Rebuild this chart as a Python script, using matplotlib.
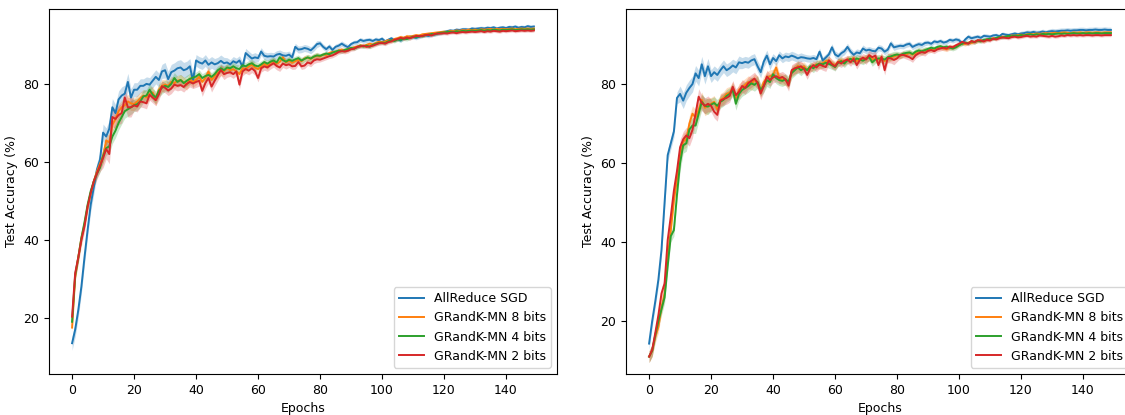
import numpy as np
import matplotlib.pyplot as plt

plt.rcParams['font.size'] = 9

# epochs 0..149
epochs = np.arange(150)
labels = ['AllReduce SGD', 'GRandK-MN 8 bits', 'GRandK-MN 4 bits', 'GRandK-MN 2 bits']
colors = ['tab:blue', 'tab:orange', 'tab:green', 'tab:red']

# ---------------- panel izquierdo ----------------
left_allreduce = [
    13.5, 17, 22, 28, 35.5, 42.5, 49, 53.5, 58, 60.5,
    67.5, 66.5, 68.5, 74, 72.5, 76, 77, 77.5, 80.5, 76.5,
    78.5, 78.5, 79.5, 79.5, 80, 79.8, 80.8, 81.8, 81, 83.2,
    83.5, 81.2, 83, 83.4, 84, 84.2, 83.5, 83.8, 84.5, 80.8,
    86, 85.5, 85.2, 86, 84.9, 85.5, 85, 85.3, 85.9, 85.3,
    85.5, 85, 85.8, 85.4, 86, 84.4, 87.9, 87.2, 86.5, 86.8,
    86.6, 88.3, 87.2, 87, 87.1, 87, 87.5, 87.7, 87.3, 87.2,
    87.5, 86.8, 89.5, 88.8, 88.9, 89.2, 89, 88.6, 89.3, 90.2,
    90.4, 89.5, 88.9, 89.6, 88.7, 89.5, 89.8, 90.3, 89.8, 89.4,
    90.2, 90.6, 90.7, 91.3, 91, 91.2, 91.3, 91, 91.4, 91.2,
    91.6, 90.9, 91.3, 91.7, 91.2, 91.5, 91.1, 91.8, 91.9, 92.1,
    92, 91.8, 92.1, 92.4, 92.5, 92.3, 92.6, 92.7, 92.9, 93.1,
    93.3, 93.5, 93.7, 93.6, 93.9, 93.8, 94, 94, 93.9, 94.2,
    94.1, 94.2, 94.3, 94.2, 94.4, 94.3, 94.5, 94.2, 94.4, 94.5,
    94.3, 94.6, 94.5, 94.7, 94.4, 94.6, 94.5, 94.8, 94.6, 94.7,
]
left_8bits = [
    17.5, 30.5, 35.5, 40.5, 44, 48.5, 52, 55, 57.5, 59.5,
    61.5, 65.5, 65, 69.5, 71, 73, 74, 74.5, 75.5, 75,
    74.8, 75.5, 76.3, 77, 76.5, 77.5, 77.8, 76, 78.5, 79.5,
    79.8, 79.5, 80.5, 80.2, 80.8, 81, 80.4, 79.8, 81.2, 80.5,
    81, 81.8, 80.5, 81.5, 83.2, 81, 82, 82.8, 83.4, 83.2,
    84, 83.5, 83.8, 83.2, 82.5, 84, 83.8, 84.5, 84.9, 84.2,
    83.8, 84.5, 85.2, 84.6, 85.5, 85.8, 85.2, 85.6, 86.8, 85.5,
    86, 85.4, 85.8, 86.2, 85.8, 86.5, 86.7, 86.4, 86.9, 87.2,
    87, 87.5, 87.4, 87.9, 88.2, 88.1, 88.6, 88.8, 88.5, 89,
    89.1, 89.4, 89.6, 89.9, 89.7, 90, 90.3, 90.1, 90.5, 90.8,
    90.7, 90.9, 91.2, 91, 91.5, 91.7, 92, 91.8, 92.2, 92.1,
    92.3, 92.5, 92.4, 92.7, 92.8, 92.9, 93, 93.1, 93.2, 93.3,
    93.4, 93.3, 93.6, 93.5, 93.7, 93.6, 93.8, 93.7, 93.9, 93.8,
    93.9, 93.8, 94, 93.9, 94, 94.1, 93.9, 94.1, 94, 94.1,
    94, 94.1, 94.2, 94, 94.1, 94.2, 94.1, 94.2, 94.1, 94.2,
]
left_4bits = [
    19, 31, 35.5, 40.5, 44.5, 49, 52.5, 55, 57, 58.5,
    61.5, 63.5, 64, 66.5, 68, 70, 71.5, 73, 73.5, 74,
    74.5, 74.8, 75.5, 76.8, 77, 78.5, 77.2, 76.5, 78.2, 79,
    79.5, 79.2, 80, 81.5, 80.5, 81, 80.2, 80.8, 81.3, 81.6,
    81.9, 82.5, 81.5, 82, 82.3, 81.8, 82.5, 83.5, 84, 83.5,
    84.2, 84, 84.5, 84, 83.8, 84.8, 84.5, 85, 85.3, 84.7,
    84.5, 85, 85.6, 85.2, 85.7, 86, 85.5, 86.8, 86.1, 85.7,
    86.2, 85.9, 86.3, 86.6, 86, 86.4, 86.8, 86.5, 87, 87.3,
    87.2, 87.5, 87.8, 87.6, 88, 88.3, 88.5, 88.4, 88.7, 88.9,
    89.2, 89.1, 89.4, 89.8, 89.6, 89.8, 89.5, 90, 90.3, 90.5,
    90.6, 90.5, 90.9, 91.2, 91, 91.4, 91.3, 91.6, 91.5, 91.8,
    92.1, 92, 92.3, 92.2, 92.5, 92.6, 92.8, 92.7, 93, 93.1,
    93.2, 93.3, 93.4, 93.3, 93.5, 93.4, 93.6, 93.5, 93.6, 93.7,
    93.6, 93.7, 93.8, 93.6, 93.8, 93.7, 93.9, 93.8, 93.7, 93.9,
    93.8, 93.9, 94, 93.8, 93.9, 94, 93.9, 94, 93.9, 94,
]
left_2bits = [
    20.3, 31.5, 35.5, 40, 43.5, 48.5, 52, 55, 57, 59,
    61, 63.3, 62, 71.5, 71, 72, 72.5, 76.5, 74, 74,
    74.5, 74.2, 75.5, 75.3, 75, 77.2, 76.5, 75.8, 77.3, 79.4,
    79, 78.3, 78.8, 79.8, 79.5, 79.7, 79.2, 80, 80.5, 80.1,
    80.5, 80.8, 78.2, 80.2, 81.5, 79.3, 80.8, 82.2, 83.6, 82.5,
    82.8, 83, 82.5, 83.2, 79.8, 83.2, 83.8, 83.4, 84, 83.3,
    81.5, 84, 84.5, 84.2, 84.8, 85.3, 84.6, 84.2, 85.2, 84.8,
    85, 84.5, 84.6, 85.6, 84.5, 84.7, 85.5, 85.2, 86, 86.3,
    86.2, 86.5, 86.8, 87.1, 87.3, 87.7, 88.2, 88.4, 88.3, 88.5,
    88.9, 89, 89.5, 89.6, 89.8, 89.5, 89.6, 89.8, 90.1, 90.4,
    90.5, 90.3, 90.7, 90.9, 91.3, 91.5, 91.8, 91.6, 91.9, 91.7,
    92, 92.3, 92.2, 92.3, 92.5, 92.6, 92.4, 92.8, 92.9, 92.9,
    93, 92.9, 93.1, 93.2, 93, 93.2, 93.3, 93.2, 93.3, 93.4,
    93.3, 93.4, 93.5, 93.3, 93.5, 93.4, 93.6, 93.5, 93.4, 93.6,
    93.5, 93.6, 93.7, 93.5, 93.6, 93.7, 93.6, 93.7, 93.6, 93.7,
]

# ---------------- panel derecho ----------------
right_allreduce = [
    14.3, 20, 25, 30.5, 38, 50, 62, 65, 68, 76.5,
    77.5, 75.8, 77.8, 79, 80, 82.7, 81.5, 85, 82, 84.5,
    82, 83, 82.3, 83.5, 84.5, 83.5, 84, 84.7, 84.2, 85.5,
    85.3, 85.6, 85.4, 86, 86.3, 84.5, 83, 85.7, 87.2, 85,
    86.6, 85.8, 87.3, 86.5, 87, 86.8, 87.2, 86.9, 86.5, 86.8,
    86.7, 86.5, 86.4, 86.6, 86.3, 88.2, 86, 86.7, 87.5, 89.3,
    87.5, 87, 87.8, 88.3, 89.4, 88.2, 87.4, 88, 87.8, 89,
    88.5, 88.7, 88.4, 88.3, 89.2, 89, 88.2, 88.7, 90.3, 89.3,
    89.5, 89.7, 89.6, 90, 90.2, 89.4, 89.8, 90.1, 89.9, 90.4,
    90.5, 90.2, 90.8, 90.6, 90.9, 90.5, 90.7, 91.2, 91, 91.3,
    91.1, 90.3, 91.3, 92, 91.6, 91.8, 92, 91.7, 92.2, 92.1,
    92, 92.3, 92.4, 92.1, 92.7, 92.5, 92.4, 92.6, 92.8, 92.6,
    92.8, 92.9, 93.1, 93, 93.2, 93, 93.1, 93.3, 93.1, 93.3,
    93.4, 93.3, 93.4, 93.5, 93.5, 93.6, 93.5, 93.6, 93.6, 93.7,
    93.7, 93.6, 93.7, 93.7, 93.8, 93.7, 93.7, 93.8, 93.7, 93.7,
]
right_8bits = [
    11, 12.5, 16, 18.5, 23.5, 27, 36, 43, 50.5, 56,
    62, 65.5, 66, 70, 72.5, 71.5, 73.5, 76, 74, 74.5,
    75, 75.5, 73.5, 76, 76.5, 77.5, 77.8, 79, 76.5, 78.5,
    79.2, 79.8, 80.5, 80, 81, 80.5, 78.2, 80.5, 81.5, 82,
    82.3, 84.2, 81.5, 81.2, 81, 80.2, 83.2, 83.8, 84.6, 84,
    84.5, 83.6, 84.2, 84.5, 85, 84.8, 85.3, 85.8, 86, 85.2,
    84.8, 85.6, 86, 85.5, 86.3, 86.1, 86.6, 85.8, 86.4, 86.2,
    86.6, 86.9, 86.2, 86.5, 86.2, 86.7, 85.8, 86.4, 86.8, 87,
    87.3, 87.1, 87.6, 87.5, 87.9, 87.4, 87.9, 88.3, 88.1, 88.5,
    88.7, 88.6, 88.9, 89.1, 89.3, 89, 88.8, 89.2, 89.4, 89.6,
    90, 90.3, 90.1, 90.5, 90.4, 90.7, 90.9, 91.1, 90.9, 91.3,
    91.4, 91.6, 91.5, 91.8, 92, 91.9, 92.1, 92.3, 92.2, 92.4,
    92.5, 92.4, 92.6, 92.7, 92.6, 92.8, 92.7, 92.8, 92.9, 92.8,
    92.9, 93, 92.9, 93, 93.1, 93, 92.9, 93.1, 93, 93.1,
    93, 93.1, 93.1, 93, 93.1, 93.1, 93, 93.1, 93.1, 93.1,
]
right_4bits = [
    11, 12.5, 16.5, 20, 23, 26, 34, 41.5, 43, 52,
    60, 64.5, 65, 68.5, 69.5, 69.5, 72.5, 75.5, 74.5, 74.3,
    74.8, 75.2, 74.5, 75.5, 76, 77, 77.5, 78.5, 75, 77.5,
    78.5, 79, 79.5, 80.2, 79.8, 80.5, 78.5, 79.5, 81, 80.5,
    82.5, 81.5, 81, 80.8, 81.2, 80.6, 82.8, 83.5, 84.2, 83.5,
    84, 83.5, 84.5, 84, 84.8, 85.2, 85, 85.4, 85.1, 84.8,
    84.3, 85.4, 85.8, 85.2, 86, 86.4, 85.8, 86.5, 86.2, 85.9,
    86.4, 86.8, 85.5, 86.2, 86.5, 86.4, 86.2, 86.8, 87, 87.3,
    87.5, 87.3, 87.7, 87.9, 88, 87.6, 88.2, 88.5, 88.3, 88.6,
    88.9, 89.2, 89, 89.4, 89.6, 89.3, 89.5, 89.2, 89, 89.3,
    89.8, 90.2, 90.5, 90.3, 90.8, 90.6, 91, 90.8, 91.2, 91.3,
    91.5, 91.4, 91.7, 91.9, 91.8, 92, 92.2, 92.1, 92.3, 92.2,
    92.4, 92.3, 92.5, 92.6, 92.4, 92.6, 92.5, 92.7, 92.6, 92.7,
    92.6, 92.7, 92.8, 92.7, 92.8, 92.7, 92.8, 92.9, 92.8, 92.8,
    92.9, 92.8, 92.9, 92.8, 92.9, 92.9, 92.8, 92.9, 92.9, 92.9,
]
right_2bits = [
    11, 12.7, 17, 21.5, 27, 29.5, 40.5, 46.5, 53, 58,
    64, 66, 67, 66.3, 68.4, 72.5, 76.8, 75.2, 74.5, 75,
    74.5, 73, 72.2, 75.8, 76.2, 76.5, 77, 79.3, 77.2, 78,
    79.5, 79, 80.2, 80.8, 81.4, 80.3, 77.6, 79.5, 81.9, 81,
    81.7, 82, 81.5, 81.8, 81.2, 79.6, 83.5, 84, 84.2, 84.5,
    83.8, 82.3, 84, 84.8, 84.2, 85, 84.6, 84.3, 86, 85,
    84.5, 85.6, 85.2, 85.9, 86.2, 85.5, 86.4, 84.8, 86.1, 86.7,
    86.2, 87.3, 86.8, 87.2, 84.8, 86.9, 83.5, 86.6, 86.5, 86.1,
    86.5, 87.3, 87.4, 87.1, 86.8, 86.3, 87.3, 87.8, 88.1, 87.9,
    88.4, 88.6, 88.3, 88.8, 89, 89.2, 89, 89.5, 89.3, 89.8,
    90.2, 90.7, 90.4, 90.2, 90.9, 90.6, 91.1, 91, 90.8, 91.2,
    91, 91.5, 91.3, 91.6, 91.8, 91.7, 91.6, 91.9, 92, 91.8,
    91.9, 92.1, 92.2, 92, 92.1, 92, 92.3, 92.2, 92.1, 92,
    92.2, 92, 92.1, 92.3, 92.2, 92.4, 92.3, 92.4, 92.3, 92.4,
    92.3, 92.4, 92.4, 92.3, 92.4, 92.4, 92.3, 92.4, 92.4, 92.4,
]

# desviacion estandar aproximada, un valor por bloque de 10 epocas
left_std = [
    [1.8, 2.2, 1.8, 2.0, 1.5, 1.2, 1.0, 0.9, 0.7, 0.6, 0.5, 0.5, 0.5, 0.5, 0.5],
    [1.2, 1.8, 1.6, 1.4, 1.3, 1.1, 0.9, 0.8, 0.6, 0.5, 0.5, 0.4, 0.4, 0.4, 0.4],
    [1.2, 1.8, 1.6, 1.4, 1.1, 1.0, 0.9, 0.8, 0.6, 0.5, 0.5, 0.4, 0.4, 0.4, 0.4],
    [1.5, 2.5, 1.4, 1.3, 1.4, 1.1, 1.0, 0.8, 0.6, 0.5, 0.5, 0.4, 0.4, 0.4, 0.4],
]
right_std = [
    [1.5, 2.0, 1.6, 1.4, 1.1, 0.9, 0.9, 0.8, 0.7, 0.6, 0.6, 0.5, 0.6, 0.7, 0.7],
    [1.5, 2.0, 1.6, 1.6, 1.4, 1.1, 1.0, 1.0, 0.8, 0.6, 0.5, 0.4, 0.4, 0.4, 0.4],
    [1.5, 2.0, 1.6, 1.6, 1.4, 1.1, 1.0, 1.0, 0.8, 0.6, 0.5, 0.4, 0.4, 0.4, 0.4],
    [1.5, 2.0, 1.6, 1.6, 1.4, 1.1, 1.0, 1.2, 0.8, 0.6, 0.5, 0.4, 0.4, 0.4, 0.4],
]

left_series = [left_allreduce, left_8bits, left_4bits, left_2bits]
right_series = [right_allreduce, right_8bits, right_4bits, right_2bits]


def dibujar_panel(ax, series, stds, ylim):
    for vals, sd, color, label in zip(series, stds, colors, labels):
        vals = np.array(vals)
        band = np.repeat(sd, 10)
        ax.fill_between(epochs, vals - band, vals + band, color=color, alpha=0.25, linewidth=0)
        ax.plot(epochs, vals, color=color, label=label, linewidth=1.4)
    ax.set_xlabel('Epochs')
    ax.set_ylabel('Test Accuracy (%)')
    ax.set_xticks([0, 20, 40, 60, 80, 100, 120, 140])
    ax.set_yticks([20, 40, 60, 80])
    ax.set_ylim(*ylim)
    ax.legend(loc='lower right')


fig = plt.figure(figsize=(11.25, 4.15), dpi=100)
ax1 = fig.add_axes([49 / 1125, 41 / 415, 508 / 1125, 365 / 415])
ax2 = fig.add_axes([626 / 1125, 41 / 415, 508 / 1125, 365 / 415])

dibujar_panel(ax1, left_series, left_std, (5.6, 99.2))
dibujar_panel(ax2, right_series, right_std, (6.6, 99.0))

fig.savefig('out.png', dpi=100)
